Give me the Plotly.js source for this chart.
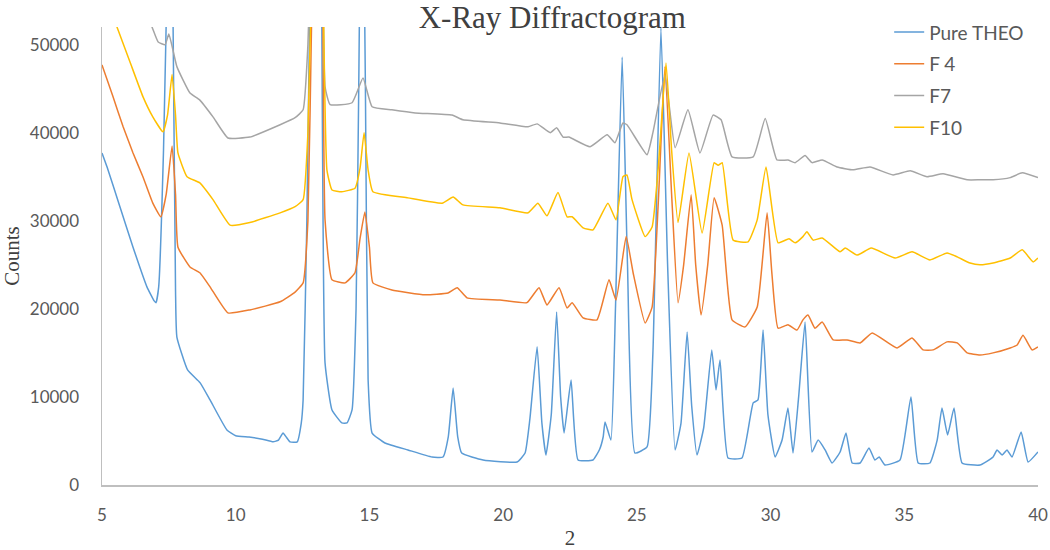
<!DOCTYPE html>
<html>
<head>
<meta charset="utf-8">
<script src="https://cdn.plot.ly/plotly-3.0.1.min.js"></script>
<style>
  html, body { margin: 0; padding: 0; background: #fff; }
  #plot { width: 1050px; height: 550px; }
</style>
</head>
<body>
<div id="plot"></div>
<script>
// values (2-theta vs counts)
const theoX = [5.0, 5.19, 5.67, 6.16, 6.68, 6.95, 7.02, 7.12, 7.3, 7.45, 7.55, 7.65, 7.75, 7.8, 8.2, 8.67, 9.04, 9.67, 10.0, 10.5, 11.0, 11.4, 11.6, 11.77, 11.9, 12.03, 12.3, 12.45, 12.52, 12.66, 12.8, 13.0, 13.2, 13.34, 13.6, 13.97, 14.16, 14.35, 14.5, 14.6, 14.72, 14.85, 14.95, 15.1, 15.58, 16.44, 17.34, 17.75, 17.95, 18.13, 18.3, 18.45, 19.25, 20.52, 20.82, 21.0, 21.27, 21.45, 21.6, 21.8, 22.0, 22.15, 22.28, 22.54, 22.8, 23.36, 23.6, 23.74, 23.81, 24.03, 24.2, 24.45, 24.65, 24.93, 25.38, 25.6, 25.9, 26.15, 26.43, 26.65, 26.88, 27.05, 27.25, 27.5, 27.8, 27.96, 28.11, 28.41, 28.93, 29.35, 29.53, 29.72, 29.9, 30.17, 30.43, 30.65, 30.84, 31.05, 31.29, 31.55, 31.78, 32.04, 32.3, 32.6, 32.82, 33.05, 33.35, 33.68, 33.9, 34.06, 34.28, 34.84, 35.25, 35.52, 35.96, 36.23, 36.41, 36.62, 36.86, 37.16, 37.83, 38.32, 38.47, 38.66, 38.84, 39.03, 39.37, 39.63, 40.0];
const theoY = [37700, 36100, 31600, 27000, 22500, 20900, 20700, 22500, 38000, 60000, 75000, 55000, 22000, 16800, 13060, 11600, 9660, 6250, 5600, 5450, 5200, 4900, 5100, 5900, 5400, 4900, 4900, 7000, 9660, 30000, 60000, 85000, 60000, 13860, 8520, 7050, 7050, 8520, 20000, 45000, 80000, 45000, 12000, 5900, 4770, 3980, 3180, 3180, 5500, 11000, 5500, 3630, 2840, 2610, 3630, 7500, 15700, 7000, 3400, 8000, 19650, 10000, 5900, 11930, 2840, 2840, 4000, 5450, 7160, 5100, 20000, 48600, 25000, 3630, 4320, 15000, 51900, 25000, 3980, 7000, 17380, 9000, 3400, 6500, 15340, 10790, 14200, 3070, 3070, 9320, 9660, 17600, 8000, 3180, 5100, 8750, 3630, 10000, 18500, 3750, 5100, 3980, 2500, 3750, 5900, 2500, 2500, 4200, 2840, 3180, 2270, 2840, 10000, 2500, 2500, 5100, 8750, 5680, 8750, 2500, 2270, 3180, 3980, 3400, 3980, 3180, 6020, 2610, 3750];

const f4X = [5.0, 5.41, 5.79, 6.16, 6.53, 6.9, 7.2, 7.4, 7.62, 7.75, 7.84, 8.29, 8.66, 9.04, 9.71, 10.53, 11.66, 12.22, 12.52, 12.7, 12.85, 13.05, 13.25, 13.34, 13.6, 14.09, 14.46, 14.65, 14.83, 15.0, 15.13, 15.84, 17.08, 17.94, 18.28, 18.65, 19.88, 20.89, 21.34, 21.64, 22.09, 22.39, 22.58, 22.99, 23.51, 23.96, 24.22, 24.6, 24.86, 25.31, 25.57, 25.8, 26.05, 26.3, 26.54, 26.75, 27.03, 27.2, 27.4, 27.65, 27.89, 28.19, 28.56, 29.05, 29.5, 29.87, 30.05, 30.28, 30.65, 30.99, 31.21, 31.4, 31.66, 31.93, 32.34, 32.86, 33.35, 33.8, 34.73, 35.29, 35.7, 36.08, 36.6, 36.98, 37.35, 37.83, 38.32, 38.96, 39.22, 39.44, 39.78, 40.0];
const f4Y = [47700, 44100, 40670, 37700, 35000, 32000, 30450, 33000, 38500, 33000, 27000, 24760, 24100, 22500, 19540, 19880, 20800, 21900, 22950, 30000, 55000, 80000, 55000, 30100, 23300, 22950, 24100, 28000, 31000, 27000, 22950, 22150, 21600, 21800, 22400, 21250, 21000, 20700, 22400, 20450, 22400, 20100, 20700, 18970, 18750, 23300, 21000, 28200, 24100, 18400, 20200, 32000, 47500, 33000, 20700, 25000, 32950, 25000, 19300, 25000, 32600, 29500, 18750, 17950, 20200, 30900, 24000, 17800, 18200, 17600, 18750, 19300, 17800, 18500, 16470, 16470, 16130, 17270, 15560, 16700, 15340, 15340, 16250, 16130, 15000, 14770, 15000, 15560, 15900, 17000, 15340, 15680];

const f7X = [5.0, 6.0, 6.87, 7.1, 7.36, 7.5, 7.8, 8.29, 8.66, 9.15, 9.71, 10.53, 11.66, 12.22, 12.52, 12.7, 12.85, 13.05, 13.25, 13.34, 13.53, 14.35, 14.76, 15.1, 15.84, 16.71, 18.09, 18.5, 19.88, 20.93, 21.27, 21.76, 22.0, 22.24, 22.46, 23.25, 23.89, 24.18, 24.48, 24.63, 25.38, 25.6, 26.05, 26.43, 26.91, 27.36, 27.85, 28.15, 28.56, 29.35, 29.8, 30.24, 30.65, 30.92, 31.29, 31.55, 31.93, 32.49, 33.08, 33.72, 34.58, 35.22, 35.85, 36.45, 37.35, 37.83, 38.32, 38.96, 39.41, 40.0];
const f7Y = [66000, 58000, 52000, 50300, 50000, 51200, 47500, 44500, 43700, 41800, 39400, 39500, 40900, 41700, 42600, 50000, 65000, 80000, 60000, 45200, 43200, 43400, 46200, 42950, 42600, 42250, 42000, 41460, 41100, 40670, 41000, 40000, 40550, 39500, 39500, 38400, 39760, 38850, 41100, 40900, 37500, 40000, 46500, 38300, 42600, 37700, 42000, 41460, 37260, 37260, 41600, 36900, 36900, 36600, 37400, 36600, 36900, 36100, 35780, 36100, 35200, 35670, 35000, 35330, 34650, 34650, 34650, 34900, 35440, 34900];

const f10X = [5.0, 5.56, 6.05, 6.53, 6.9, 7.28, 7.45, 7.62, 7.75, 7.84, 8.18, 8.66, 9.15, 9.79, 10.53, 11.66, 12.22, 12.52, 12.7, 12.85, 13.05, 13.25, 13.41, 13.6, 13.97, 14.46, 14.65, 14.8, 14.95, 15.13, 16.44, 17.72, 18.13, 18.5, 19.88, 20.93, 21.3, 21.64, 22.05, 22.39, 22.58, 22.99, 23.36, 23.92, 24.22, 24.48, 24.63, 24.82, 25.31, 25.57, 25.8, 26.09, 26.3, 26.54, 26.95, 27.44, 27.89, 28.04, 28.19, 28.6, 29.16, 29.5, 29.83, 30.28, 30.69, 30.92, 31.21, 31.36, 31.59, 31.93, 32.6, 32.79, 33.24, 33.76, 34.66, 35.29, 35.96, 36.6, 36.98, 37.46, 37.83, 38.32, 38.96, 39.41, 39.82, 40.0];
const f10Y = [57000, 52000, 48000, 44100, 41800, 40100, 42000, 46600, 42000, 37700, 35000, 34300, 32400, 29500, 29800, 30900, 31600, 32400, 40000, 60000, 80000, 60000, 35780, 33500, 33300, 33700, 36000, 40000, 35780, 33300, 32600, 32000, 32700, 31800, 31470, 30900, 32000, 30560, 33200, 30450, 30450, 29200, 28970, 32000, 30100, 35000, 35200, 32400, 28200, 29300, 36000, 47900, 38000, 29800, 37700, 28600, 36600, 36300, 36600, 27800, 27600, 30100, 36100, 27500, 27950, 27500, 28200, 28750, 27800, 28050, 26470, 26900, 26100, 26900, 25770, 26470, 25550, 26350, 25900, 25200, 25000, 25200, 25770, 26700, 25330, 25770];

const seriesNames = ["Pure THEO", "F 4", "F7", "F10"];
const seriesColors = ["#5B9BD5", "#ED7D31", "#A5A5A5", "#FFC000"];
const xTicks = [5, 10, 15, 20, 25, 30, 35, 40];
const yTicks = [0, 10000, 20000, 30000, 40000, 50000];

const allX = [theoX, f4X, f7X, f10X];
const allY = [theoY, f4Y, f7Y, f10Y];

const traces = seriesNames.map((name, i) => ({
  x: allX[i],
  y: allY[i],
  type: "scatter",
  mode: "lines",
  name: name,
  legendgroup: "g" + i,
  line: { color: seriesColors[i], width: 1.5, shape: "spline", smoothing: 0.4 },
}));

const tickFont = { family: "Lato, 'Open Sans', sans-serif", size: 17, color: "#595959" };
const serifFont = "'Liberation Serif', 'Times New Roman', serif";

const layout = {
  width: 1050,
  height: 550,
  margin: { l: 102, r: 12, t: 27, b: 65 },
  paper_bgcolor: "#fff",
  plot_bgcolor: "#fff",
  title: {
    text: "X-Ray Diffractogram",
    font: { family: serifFont, size: 31, color: "#404040" },
    x: 0.526,
    xanchor: "center",
    xref: "container",
    y: 0.968,
    yanchor: "middle",
    yref: "container",
  },
  xaxis: {
    range: [5, 40],
    tickvals: xTicks,
    ticktext: xTicks.map(String),
    showgrid: false,
    zeroline: false,
    showline: true,
    linecolor: "#BFBFBF",
    linewidth: 1.5,
    ticks: "outside",
    ticklen: 14,
    tickcolor: "rgba(0,0,0,0)",
    tickfont: tickFont,
    title: {
      text: "2",
      font: { family: serifFont, size: 21, color: "#404040" },
      standoff: 6,
    },
  },
  yaxis: {
    range: [0, 52000],
    tickvals: yTicks,
    ticktext: yTicks.map(String),
    showgrid: false,
    zeroline: false,
    showline: true,
    linecolor: "#BFBFBF",
    linewidth: 1.5,
    ticks: "outside",
    ticklen: 18,
    tickcolor: "rgba(0,0,0,0)",
    tickfont: tickFont,
    title: {
      text: "Counts",
      font: { family: serifFont, size: 21, color: "#404040" },
      standoff: 8,
    },
  },
  showlegend: true,
  legend: {
    x: 0.841,
    xanchor: "left",
    y: 1.03,
    yanchor: "top",
    bgcolor: "rgba(255,255,255,0)",
    font: { family: "Lato, 'Open Sans', sans-serif", size: 19, color: "#595959" },
    tracegroupgap: 4,
  },
};

Plotly.newPlot("plot", traces, layout, { displayModeBar: false, staticPlot: true });
</script>
</body>
</html>
